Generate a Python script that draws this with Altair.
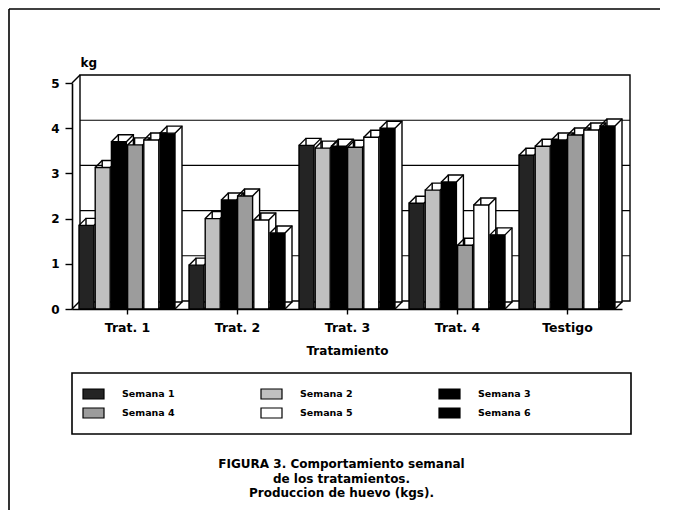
import json
import altair as alt
import pandas as pd

# ---------------- data ----------------
tratamientos = ["Trat. 1", "Trat. 2", "Trat. 3", "Trat. 4", "Testigo"]
semanas = ["Semana 1", "Semana 2", "Semana 3", "Semana 4", "Semana 5", "Semana 6"]
semana_1 = [1.85, 0.97, 3.62, 2.34, 3.40]
semana_2 = [3.13, 2.00, 3.56, 2.63, 3.60]
semana_3 = [3.70, 2.41, 3.60, 2.81, 3.74]
semana_4 = [3.63, 2.50, 3.58, 1.41, 3.85]
semana_5 = [3.74, 1.97, 3.80, 2.30, 3.96]
semana_6 = [3.89, 1.68, 4.00, 1.64, 4.05]
y_ticks = [0, 1, 2, 3, 4, 5]
grid_values = [1, 2, 3, 4]
caption = ["FIGURA 3. Comportamiento semanal",
           "de los tratamientos.",
           "Produccion de huevo (kgs)."]

series = [semana_1, semana_2, semana_3, semana_4, semana_5, semana_6]
rows = []
for w, (name, vals) in enumerate(zip(semanas, series)):
    for g, v in enumerate(vals):
        rows.append({"tratamiento": tratamientos[g], "semana": name,
                     "g": g, "w": w, "kg": v})
df = pd.DataFrame(rows).sort_values(["g", "w"]).reset_index(drop=True)

# ---------------- style ----------------
FONT = "DejaVu Sans"
colors = ["#242424", "#c0c0c0", "#000000", "#9c9c9c", "#ffffff", "#000000"]
color_scale = alt.Scale(domain=semanas, range=colors)
W, H = 550, 226
PITCH, BW, GW = 16.2, 15.0, 110.0
D = 7      # bar depth (px)
WD = 8     # wall depth (px)
SW = 1.4

xs = alt.Scale(domain=[0, 5], nice=False, zero=False)
ys = alt.Scale(domain=[0, 5], nice=False)
label_expr = f"{json.dumps(tratamientos)}[floor(datum.value)]"

AX = alt.Axis(title="Tratamiento", values=[0.5, 1.5, 2.5, 3.5, 4.5], labelExpr=label_expr,
              grid=False, tickSize=5, tickColor="black", domainColor="black",
              domainWidth=1.6, tickWidth=1.4, labelFontSize=12.5,
              labelFontWeight="bold", labelColor="black", labelPadding=7,
              titleFontSize=12, titleFontWeight="bold", titleColor="black",
              titlePadding=12)
AY = alt.Axis(title="kg", values=y_ticks, grid=False, tickSize=7, tickColor="black",
              domainColor="black", domainWidth=1.6, tickWidth=1.4,
              labelFontSize=12, labelFontWeight="bold", labelColor="black",
              labelPadding=6, titleAngle=0, titleX=8, titleY=-17,
              titleAlign="left", titleBaseline="alphabetic",
              titleFontSize=12, titleFontWeight="bold", titleColor="black")


def xd(v):
    return alt.datum(v, scale=xs, axis=AX, type="quantitative")


def yd(v):
    return alt.datum(v, scale=ys, axis=AY, type="quantitative")


one = pd.DataFrame({"k": [0]})

# frame lines of the page
frame_top = alt.Chart(one).mark_rule(color="black", strokeWidth=1.6).encode(
    x=alt.value(-63), x2=alt.value(588), y=alt.value(-74))
frame_left = alt.Chart(one).mark_rule(color="black", strokeWidth=1.6).encode(
    x=alt.value(-63), y=alt.value(-74), y2=alt.value(427))

# back wall of the 3D box
wall = alt.Chart(one).mark_rect(
    fillOpacity=0, stroke="black", strokeWidth=SW,
    xOffset=WD, x2Offset=WD, yOffset=-WD, y2Offset=-WD
).encode(x=xd(0), x2=alt.datum(5), y=yd(0), y2=alt.datum(5))

wall_diag = alt.Chart(pd.DataFrame({"v": [0, 5]})).mark_rule(
    color="black", strokeWidth=SW, x2Offset=WD, y2Offset=-WD
).encode(x=xd(0), x2=alt.datum(0),
         y=alt.Y("v:Q", scale=ys, axis=AY), y2="v:Q")

grid = alt.Chart(pd.DataFrame({"v": grid_values})).mark_rule(
    color="black", strokeWidth=1.1, xOffset=WD, x2Offset=WD, yOffset=-WD
).encode(x=xd(0), x2=alt.datum(5), y=alt.Y("v:Q", scale=ys, axis=AY))

base = alt.Chart(df).transform_calculate(
    x0=f"datum.g + 0.5 + (datum.w * {PITCH} - {(5 * PITCH + BW) / 2}) / {GW}",
    x1=f"datum.g + 0.5 + (datum.w * {PITCH} - {(5 * PITCH + BW) / 2} + {BW}) / {GW}",
)

back = base.mark_rect(
    fill="white", stroke="black", strokeWidth=SW,
    xOffset=D, x2Offset=D, yOffset=-D, y2Offset=-D
).encode(
    x=alt.X("x0:Q", scale=xs, axis=AX), x2="x1:Q",
    y=alt.Y("kg:Q", scale=ys, axis=AY), y2=alt.datum(0))

diag_tl = base.mark_rule(color="black", strokeWidth=SW, x2Offset=D, y2Offset=-D).encode(
    x=alt.X("x0:Q", scale=xs, axis=AX), x2="x0:Q",
    y=alt.Y("kg:Q", scale=ys, axis=AY), y2="kg:Q")
diag_tr = base.mark_rule(color="black", strokeWidth=SW, x2Offset=D, y2Offset=-D).encode(
    x=alt.X("x1:Q", scale=xs, axis=AX), x2="x1:Q",
    y=alt.Y("kg:Q", scale=ys, axis=AY), y2="kg:Q")
diag_br = base.mark_rule(color="black", strokeWidth=SW, x2Offset=D, y2Offset=-D).encode(
    x=alt.X("x1:Q", scale=xs, axis=AX), x2="x1:Q",
    y=yd(0), y2=alt.datum(0))

front = base.mark_rect(stroke="black", strokeWidth=SW).encode(
    x=alt.X("x0:Q", scale=xs, axis=AX), x2="x1:Q",
    y=alt.Y("kg:Q", scale=ys, axis=AY), y2=alt.datum(0),
    fill=alt.Fill("semana:N", scale=color_scale, legend=None),
)

main = alt.layer(frame_top, frame_left, wall, grid, wall_diag,
                 back, diag_tl, diag_tr, diag_br, front).properties(width=W, height=H)

# ---------------- legend panel ----------------
leg_df = pd.DataFrame({"semana": semanas, "i": list(range(len(semanas)))})
lx = alt.Scale(domain=[-11 / 178, -11 / 178 + 559 / 178], nice=False, zero=False)
ly = alt.Scale(domain=[-21 / 19, -21 / 19 + 61 / 19], nice=False, zero=False, reverse=True)
leg_base = alt.Chart(leg_df).transform_calculate(
    col="datum.i % 3", row="floor(datum.i / 3)")
swatch = leg_base.mark_rect(stroke="black", strokeWidth=1.2, x2Offset=21,
                            yOffset=-5, y2Offset=5).encode(
    x=alt.X("col:Q", scale=lx, axis=None), x2="col:Q",
    y=alt.Y("row:Q", scale=ly, axis=None), y2="row:Q",
    fill=alt.Fill("semana:N", scale=color_scale, legend=None))
leg_text = leg_base.mark_text(align="left", baseline="middle", dx=39, fontSize=9.5,
                              fontWeight="bold", color="black").encode(
    x=alt.X("col:Q", scale=lx, axis=None),
    y=alt.Y("row:Q", scale=ly, axis=None),
    text="semana:N")
legend = alt.layer(swatch, leg_text).properties(
    width=559, height=61,
    view=alt.ViewBackground(stroke="black", strokeWidth=1.6),
    title=alt.TitleParams(text=caption, orient="bottom", anchor="middle", dx=-10,
                          offset=25, fontSize=12, fontWeight="bold", color="black",
                          lineHeight=14.5, baseline="top"))

chart = alt.vconcat(main, legend, spacing=64, bounds="flush").properties(
    padding=0
).configure(font=FONT).configure_view(stroke=None)

chart.save("out.html", embed_options={"renderer": "svg", "actions": False})
